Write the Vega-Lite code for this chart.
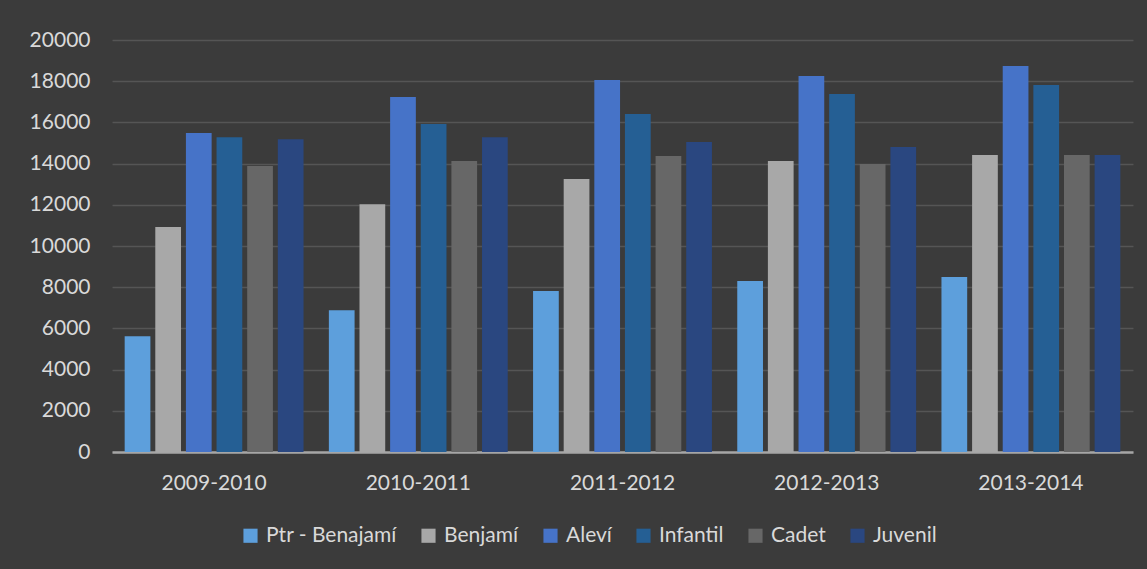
{
  "$schema": "https://vega.github.io/schema/vega-lite/v6.json",
  "autosize": {"type": "none"},
  "width": 1021,
  "height": 412,
  "padding": {"left": 112, "top": 40, "right": 14, "bottom": 117},
  "background": "#3b3b3b",
  "data": {
    "values": [
      {"season": "2009-2010", "category": "Ptr - Benajamí", "value": 5620},
      {"season": "2009-2010", "category": "Benjamí", "value": 10920},
      {"season": "2009-2010", "category": "Aleví", "value": 15480},
      {"season": "2009-2010", "category": "Infantil", "value": 15280},
      {"season": "2009-2010", "category": "Cadet", "value": 13880},
      {"season": "2009-2010", "category": "Juvenil", "value": 15180},
      {"season": "2010-2011", "category": "Ptr - Benajamí", "value": 6880},
      {"season": "2010-2011", "category": "Benjamí", "value": 12030},
      {"season": "2010-2011", "category": "Aleví", "value": 17230},
      {"season": "2010-2011", "category": "Infantil", "value": 15920},
      {"season": "2010-2011", "category": "Cadet", "value": 14130},
      {"season": "2010-2011", "category": "Juvenil", "value": 15280},
      {"season": "2011-2012", "category": "Ptr - Benajamí", "value": 7820},
      {"season": "2011-2012", "category": "Benjamí", "value": 13250},
      {"season": "2011-2012", "category": "Aleví", "value": 18060},
      {"season": "2011-2012", "category": "Infantil", "value": 16410},
      {"season": "2011-2012", "category": "Cadet", "value": 14370},
      {"season": "2011-2012", "category": "Juvenil", "value": 15050},
      {"season": "2012-2013", "category": "Ptr - Benajamí", "value": 8300},
      {"season": "2012-2013", "category": "Benjamí", "value": 14130},
      {"season": "2012-2013", "category": "Aleví", "value": 18250},
      {"season": "2012-2013", "category": "Infantil", "value": 17380},
      {"season": "2012-2013", "category": "Cadet", "value": 13980},
      {"season": "2012-2013", "category": "Juvenil", "value": 14800},
      {"season": "2013-2014", "category": "Ptr - Benajamí", "value": 8500},
      {"season": "2013-2014", "category": "Benjamí", "value": 14420},
      {"season": "2013-2014", "category": "Aleví", "value": 18740},
      {"season": "2013-2014", "category": "Infantil", "value": 17820},
      {"season": "2013-2014", "category": "Cadet", "value": 14420},
      {"season": "2013-2014", "category": "Juvenil", "value": 14420}
    ]
  },
  "mark": {"type": "bar"},
  "encoding": {
    "x": {
      "field": "season",
      "type": "nominal",
      "sort": null,
      "scale": {"paddingInner": 0.1, "paddingOuter": 0.05},
      "axis": {
        "title": null,
        "labelAngle": 0,
        "labelFont": "Lato",
        "labelFontSize": 21,
        "labelColor": "#d9d9d9",
        "labelPadding": 20,
        "ticks": false,
        "domain": true,
        "domainColor": "#a6a6a6",
        "domainWidth": 2.5,
        "grid": false
      }
    },
    "xOffset": {
      "field": "category",
      "type": "nominal",
      "sort": ["Ptr - Benajamí", "Benjamí", "Aleví", "Infantil", "Cadet", "Juvenil"],
      "scale": {"paddingInner": 0.16, "paddingOuter": 0.08}
    },
    "y": {
      "field": "value",
      "type": "quantitative",
      "scale": {"domain": [0, 20000], "nice": false},
      "axis": {
        "title": null,
        "values": [0, 2000, 4000, 6000, 8000, 10000, 12000, 14000, 16000, 18000, 20000],
        "format": "d",
        "labelFont": "Lato",
        "labelFontSize": 21,
        "labelColor": "#d9d9d9",
        "labelPadding": 22,
        "ticks": false,
        "domain": false,
        "grid": true,
        "gridColor": "#555555",
        "gridWidth": 1.5
      }
    },
    "color": {
      "field": "category",
      "type": "nominal",
      "sort": ["Ptr - Benajamí", "Benjamí", "Aleví", "Infantil", "Cadet", "Juvenil"],
      "scale": {
        "domain": ["Ptr - Benajamí", "Benjamí", "Aleví", "Infantil", "Cadet", "Juvenil"],
        "range": ["#5d9fdc", "#a8a8a8", "#4673c8", "#255f94", "#676767", "#2a4780"]
      },
      "legend": {
        "title": null,
        "orient": "none",
        "direction": "horizontal",
        "legendX": 128,
        "legendY": 485,
        "symbolType": "square",
        "symbolSize": 200,
        "symbolStrokeWidth": 0,
        "labelFont": "Lato",
        "labelFontSize": 21,
        "labelColor": "#d9d9d9",
        "labelOffset": 5,
        "columnPadding": 21,
        "labelLimit": 300
      }
    }
  },
  "config": {
    "view": {"stroke": null}
  }
}
